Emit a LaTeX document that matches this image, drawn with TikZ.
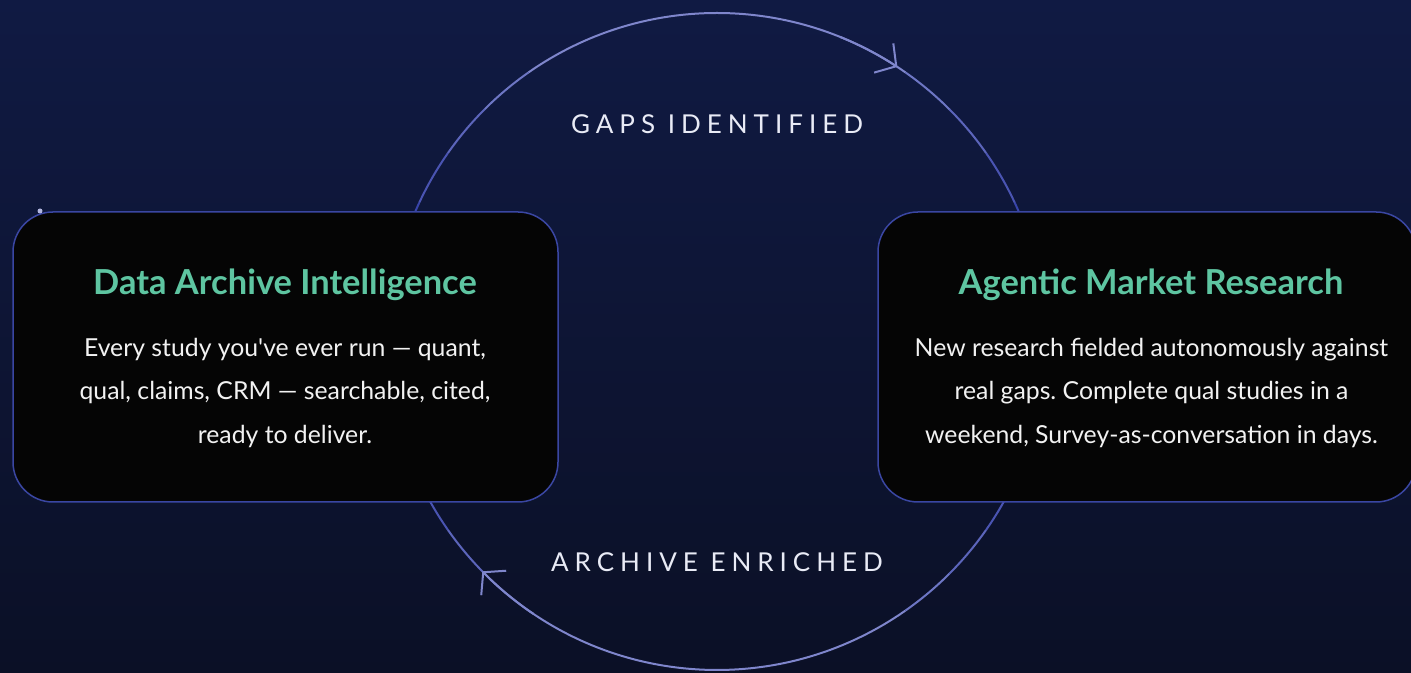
\documentclass[tikz,border=0pt]{standalone}
\usepackage{xcolor}
\usepackage{fontspec}
\setmainfont{Lato}
\newfontfamily\bodyfont{Lato}
\newfontfamily\tagfont[LetterSpace=23]{Lato}
\usepackage{tikz}
\usetikzlibrary{calc}
\usetikzlibrary{arrows.meta}
\frenchspacing

\definecolor{bgtop}{HTML}{101A43}
\definecolor{bgbottom}{HTML}{0B1026}
\definecolor{cycledark}{HTML}{3844AA}
\definecolor{cyclelight}{HTML}{7F86CC}
\definecolor{boxfill}{HTML}{050505}
\definecolor{boxline}{HTML}{3A46A2}
\definecolor{titlegreen}{HTML}{5EC5A1}
\definecolor{bodywhite}{HTML}{F2F2F2}
\definecolor{tagwhite}{HTML}{E9EBF6}

\tikzset{
  cyclearc/.style={line width=0.04cm},
  cyclehead/.style={line width=0.04cm, cyclelight,
    -{Straight Barb[length=0.3cm, width=0.7cm]}},
  stagebox/.style={draw=boxline, fill=boxfill, line width=0.03cm,
    rounded corners=0.8cm, minimum height=5.8cm},
  stagetitle/.style={text=titlegreen, font=\fontsize{19.6}{23}\selectfont\bfseries},
  stagebody/.style={text=bodywhite, align=center,
    font=\bodyfont\fontsize{14.1}{24.5}\selectfont},
  looptag/.style={text=tagwhite, font=\fontsize{14.8}{17}\selectfont\tagfont},
}

\begin{document}
\begin{tikzpicture}
            \clip (0,0) rectangle (28.22,13.46);
            
            % Background
            \shade [top color=bgtop, bottom color=bgbottom] (0,0) rectangle (28.22,13.46);%
            
            % Centre of the loop
            \coordinate (cyc) at (14.34,6.63);%
            
            % Drawing the loop, darker at the sides
            \draw [cyclearc, cycledark] ([shift={(-25:6.57)}]cyc) arc [start angle=-25, end angle=25, radius=6.57];%
            \draw [cyclearc, cyclelight!25!cycledark] ([shift={(25:6.57)}]cyc) arc [start angle=25, end angle=35, radius=6.57];%
            \draw [cyclearc, cyclelight!50!cycledark] ([shift={(35:6.57)}]cyc) arc [start angle=35, end angle=45, radius=6.57];%
            \draw [cyclearc, cyclelight!75!cycledark] ([shift={(45:6.57)}]cyc) arc [start angle=45, end angle=55, radius=6.57];%
            \draw [cyclearc, cyclelight] ([shift={(55:6.57)}]cyc) arc [start angle=55, end angle=125, radius=6.57];%
            \draw [cyclearc, cyclelight!75!cycledark] ([shift={(125:6.57)}]cyc) arc [start angle=125, end angle=135, radius=6.57];%
            \draw [cyclearc, cyclelight!50!cycledark] ([shift={(135:6.57)}]cyc) arc [start angle=135, end angle=145, radius=6.57];%
            \draw [cyclearc, cyclelight!25!cycledark] ([shift={(145:6.57)}]cyc) arc [start angle=145, end angle=155, radius=6.57];%
            \draw [cyclearc, cycledark] ([shift={(155:6.57)}]cyc) arc [start angle=155, end angle=205, radius=6.57];%
            \draw [cyclearc, cyclelight!25!cycledark] ([shift={(205:6.57)}]cyc) arc [start angle=205, end angle=215, radius=6.57];%
            \draw [cyclearc, cyclelight!50!cycledark] ([shift={(215:6.57)}]cyc) arc [start angle=215, end angle=225, radius=6.57];%
            \draw [cyclearc, cyclelight!75!cycledark] ([shift={(225:6.57)}]cyc) arc [start angle=225, end angle=235, radius=6.57];%
            \draw [cyclearc, cyclelight] ([shift={(235:6.57)}]cyc) arc [start angle=235, end angle=305, radius=6.57];%
            \draw [cyclearc, cyclelight!75!cycledark] ([shift={(305:6.57)}]cyc) arc [start angle=305, end angle=315, radius=6.57];%
            \draw [cyclearc, cyclelight!50!cycledark] ([shift={(315:6.57)}]cyc) arc [start angle=315, end angle=325, radius=6.57];%
            \draw [cyclearc, cyclelight!25!cycledark] ([shift={(325:6.57)}]cyc) arc [start angle=325, end angle=335, radius=6.57];%
            
            % Arrow heads, clockwise
            \draw [cyclehead] ([shift={(68:6.57)}]cyc) arc [start angle=68, end angle=56.7, radius=6.57];%
            \draw [cyclehead] ([shift={(236:6.57)}]cyc) arc [start angle=236, end angle=224.4, radius=6.57];%
            
            % Stage boxes
            \node [stagebox, minimum width=10.9cm] (archive) at (5.71,6.32) {};%
            \node [stagebox, minimum width=10.76cm] (research) at (22.94,6.32) {};%
            
            % Marking point on the archive box
            \fill [cyclelight!60!white] (0.80,9.24) circle (0.05);%
            
            % Box texts
            \node [stagetitle] (archivetitle) at (5.70,7.76) {Data Archive Intelligence};%
            \node [stagebody] (archivebody) at (5.70,5.60) {Every study you've ever run — quant,\\ qual, claims, CRM — searchable, cited,\\ ready to deliver.};%
            \node [stagetitle] (researchtitle) at (23.02,7.76) {Agentic Market Research};%
            \node [stagebody] (researchbody) at (23.03,5.60) {New research fielded autonomously against\\ real gaps. Complete qual studies in a\\ weekend, Survey-as-conversation in days.};%
            
            % Loop labels
            \node [looptag] (gaps) at (14.34,10.98) {GAPS IDENTIFIED};%
            \node [looptag] (enriched) at (14.34,2.22) {ARCHIVE ENRICHED};%
\end{tikzpicture}
\end{document}
